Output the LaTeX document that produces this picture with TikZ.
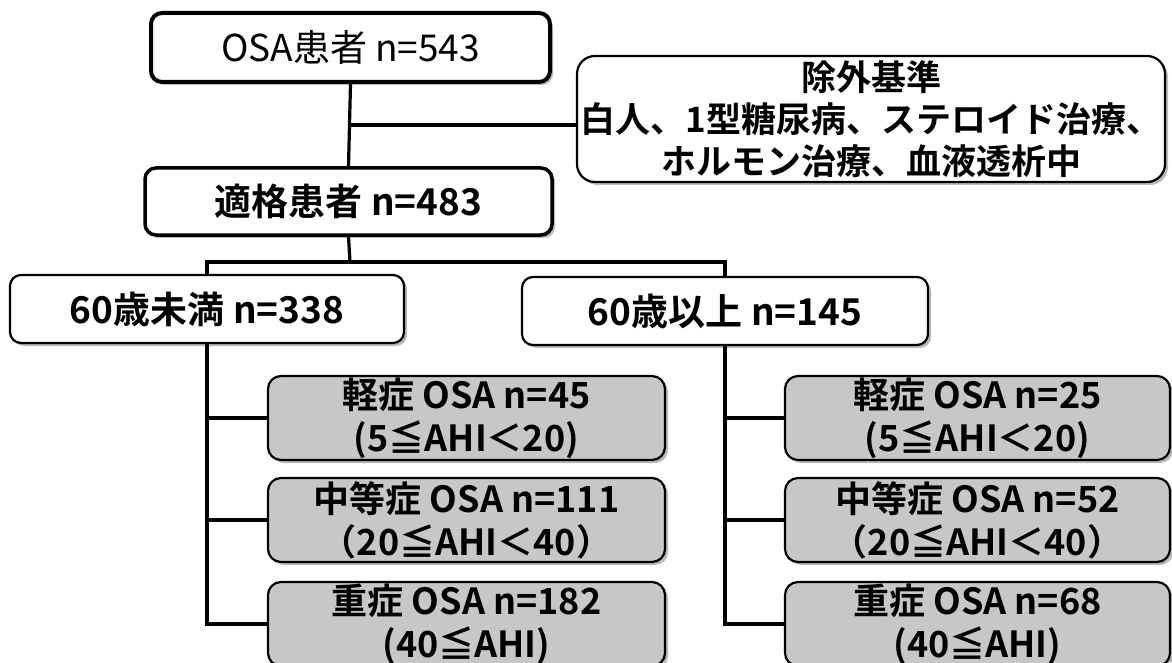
\documentclass[tikz,border=0pt]{standalone}
\usepackage{fontspec}
\setmainfont{Noto Sans CJK JP}[BoldFont={Noto Sans CJK JP Bold}]
\usetikzlibrary{shadows}
\tikzset{
  base/.style={draw=black, fill=white, rounded corners=11pt, align=center, inner sep=0pt,
    drop shadow={shadow xshift=3pt, shadow yshift=-3pt, fill=black!55}},
  topbox/.style={base, line width=4pt, font=\fontsize{37}{42}\selectfont},
  midbox/.style={base, line width=3.5pt, font=\fontsize{37}{42}\selectfont\bfseries},
  agebox/.style={base, line width=2.2pt, font=\fontsize{37}{42}\selectfont\bfseries},
  exclbox/.style={base, line width=2.2pt, rounded corners=18pt, font=\fontsize{35}{42}\selectfont\bfseries},
  subbox/.style={base, line width=2.2pt, fill=black!22, rounded corners=13pt,
    minimum height=84pt, font=\fontsize{36}{43}\selectfont\bfseries},
  conn/.style={draw=black, line width=3.2pt},
}
\begin{document}
\begin{tikzpicture}[x=1pt,y=-1pt]
\useasboundingbox (0,0) rectangle (1172,663);
\clip (0,0) rectangle (1172,663);
% top level
\node[topbox, minimum width=399pt, minimum height=69pt] (osa) at (350.5,47.5) {OSA患者 n=543};
\node[exclbox, minimum width=588pt, minimum height=126pt] (ex) at (871,119)
  {除外基準\\白人、1型糖尿病、ステロイド治療、\\ホルモン治療、血液透析中};
\node[midbox, minimum width=407pt, minimum height=67pt] (elig) at (348.5,201.5) {適格患者 n=483};
% age groups
\node[agebox, minimum width=394pt, minimum height=68pt] (young) at (207,309) {60歳未満 n=338};
\node[agebox, minimum width=406pt, minimum height=68pt] (old) at (725,311) {60歳以上 n=145};
% severity, left
\node[subbox, minimum width=397pt] (l1) at (466.5,418) {軽症 OSA n=45\\(5≦AHI＜20)};
\node[subbox, minimum width=397pt] (l2) at (466.5,520) {中等症 OSA n=111\\（20≦AHI＜40）};
\node[subbox, minimum width=397pt] (l3) at (466.5,624) {重症 OSA n=182\\(40≦AHI)};
% severity, right
\node[subbox, minimum width=385pt] (r1) at (977.5,418) {軽症 OSA n=25\\(5≦AHI＜20)};
\node[subbox, minimum width=385pt] (r2) at (977.5,520) {中等症 OSA n=52\\（20≦AHI＜40）};
\node[subbox, minimum width=385pt] (r3) at (977.5,624) {重症 OSA n=68\\(40≦AHI)};
% connectors
\coordinate (exjoin) at (577,125);
\coordinate (br) at (350,262);
\draw[conn] (osa.south) -- (elig.north);
\draw[conn] (osa.south |- exjoin) -- (exjoin);
\draw[conn] (elig.south) -- (br);
\draw[conn] (young.north) -- (young.north |- br) -- (old.north |- br) -- (old.north);
\draw[conn] (young.south) -- (young.south |- l3.west) -- (l3.west);
\draw[conn] (young.south |- l1.west) -- (l1.west);
\draw[conn] (young.south |- l2.west) -- (l2.west);
\draw[conn] (old.south) -- (old.south |- r3.west) -- (r3.west);
\draw[conn] (old.south |- r1.west) -- (r1.west);
\draw[conn] (old.south |- r2.west) -- (r2.west);
\end{tikzpicture}
\end{document}
